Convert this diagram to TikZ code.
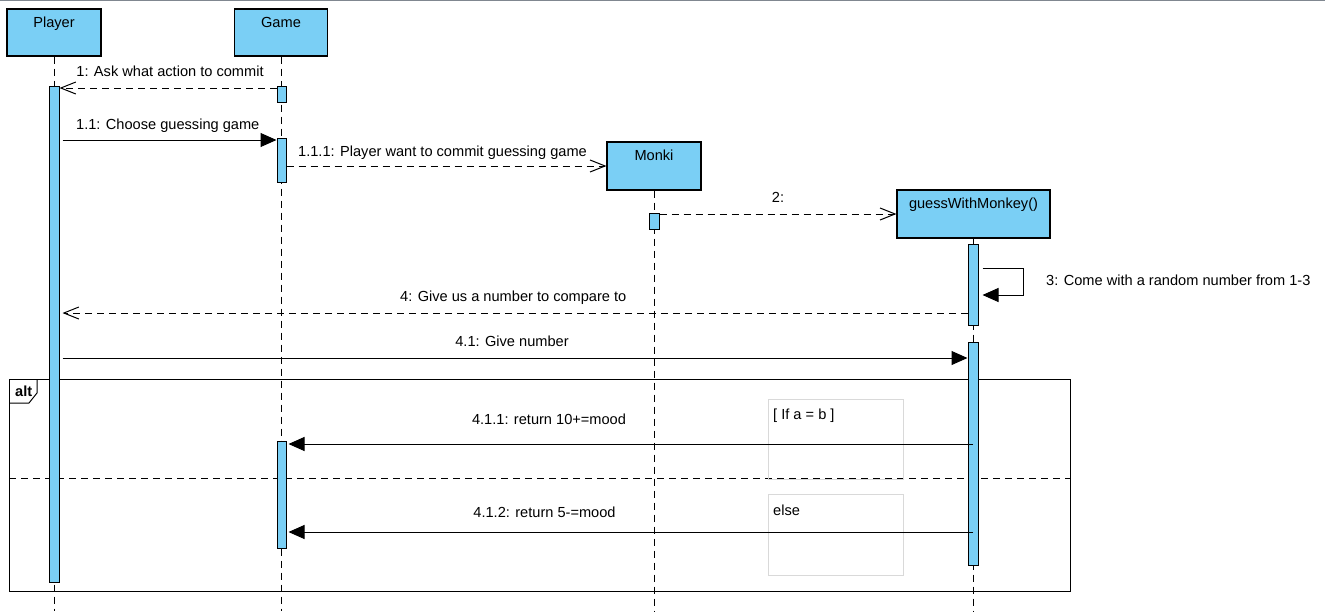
\documentclass[tikz,border=0pt]{standalone}
\usepackage{fontspec}
\setmainfont{Liberation Sans}
\usetikzlibrary{arrows.meta}
\definecolor{lb}{RGB}{122,207,245}
\definecolor{topgray}{RGB}{128,135,144}
\definecolor{guardgray}{RGB}{217,217,217}
\begin{document}
\begin{tikzpicture}[x=1pt,y=-1pt,
  font=\fontsize{14.6}{17}\selectfont,
  obj/.style={draw=black, line width=1.2pt, fill=lb, rectangle, inner sep=0pt},
  act/.style={draw=black, line width=1pt, fill=lb, rectangle, inner sep=0pt, minimum width=9pt},
  life/.style={draw=black, line width=1pt, dash pattern=on 7pt off 5pt},
  sync/.style={line width=1pt, -{Triangle[length=16pt,width=14pt]}},
  ret/.style={line width=1pt, dash pattern=on 7pt off 5pt, -{Straight Barb[length=15pt,width=12pt,line width=1pt]}},
  lbl/.style={anchor=base, inner sep=0pt},
  lblw/.style={anchor=base west, inner sep=0pt},
  guard/.style={draw=guardgray, line width=1pt}
]
\useasboundingbox (0,0) rectangle (1325,611);
\draw[topgray, line width=1.5pt] (0,0.5) -- (1325,0.5);

% objects
\node[obj, minimum width=94pt, minimum height=47pt] (player) at (54,32.5) {};
\node[obj, minimum width=93pt, minimum height=47pt] (game) at (281,32.5) {};
\node[obj, minimum width=94pt, minimum height=48pt] (monki) at (654,166) {};
\node[obj, minimum width=153pt, minimum height=48pt] (guess) at (973.5,214) {};
\node[lbl] (playerT) at (54,27) {Player};
\node[lbl] (gameT) at (281,27) {Game};
\node[lbl] (monkiT) at (654,160) {Monki};
\node[lbl] (guessT) at (973.5,208) {guessWithMonkey()};

% lifelines
\coordinate (pEnd) at (54,611);
\coordinate (gEnd) at (281,611);
\coordinate (mEnd) at (654,611);
\coordinate (wEnd) at (973,611);
\draw[life] (player.south) -- (pEnd);
\draw[life] (game.south) -- (gEnd);
\draw[life] (monki.south) -- (mEnd);
\draw[life] (guess.south -| wEnd) -- (wEnd);

% alt frame
\draw[line width=1pt] (9,379) rectangle (1070,591);
\draw[line width=1pt] (9,403) -- (29,403) -- (37,393) -- (37,379);
\node[anchor=base west, inner sep=0pt, font=\fontsize{14.6}{17}\selectfont\bfseries] (altT) at (15,396) {alt};
\draw[line width=1pt, dash pattern=on 7pt off 5pt] (9,478) -- (1070,478);
\draw[guard] (768,399) rectangle (903,479);
\draw[guard] (768,494) rectangle (903,575);
\node[lblw] (g1) at (773,419) {[ If a = b ]};
\node[lblw] (g2) at (773,515) {else};

% activations
\node[act, minimum width=10pt, minimum height=496pt] (pA) at (54,334) {};
\node[act, minimum height=16pt] (gA1) at (281.5,94) {};
\node[act, minimum height=44pt] (gA2) at (281.5,160) {};
\node[act, minimum height=107pt] (gA3) at (281.5,494.5) {};
\node[act, minimum width=10pt, minimum height=16pt] (mA) at (654,221) {};
\node[act, minimum width=10pt, minimum height=81pt] (wA1) at (973,284.5) {};
\node[act, minimum width=10pt, minimum height=223pt] (wA2) at (973,453.5) {};

% messages
\draw[ret] (gA1.west |- 0,88) -- (pA.east |- 0,88);
\node[lbl] (m1T) at (170,76) {1: Ask what action to commit};

\draw[sync] ([xshift=3pt]pA.east |- 0,140) -- (gA2.west |- 0,140);
\node[lblw] (m11T) at (76,129) {1.1: Choose guessing game};

\draw[ret] (gA2.east |- 0,166) -- (monki.west);
\node[lblw] (m111T) at (298,156) {1.1.1: Player want to commit guessing game};

\draw[ret] (mA.east |- 0,214) -- (guess.west);
\node[lbl] (m2T) at (778,202) {2:};

\draw[sync] ([xshift=4pt]wA1.east |- 0,268) -- (1023,268) |- ([xshift=4pt]wA1.east |- 0,295);
\node[lblw] (m3T) at (1046,285) {3: Come with a random number from 1-3};

\draw[ret] (wA1.west |- 0,313) -- ([xshift=3pt]pA.east |- 0,313);
\node[lblw] (m4T) at (400,301) {4: Give us a number to compare to};

\draw[sync] ([xshift=3pt]pA.east |- 0,358) -- (wA2.west |- 0,358);
\node[lbl] (m41T) at (512,346) {4.1: Give number};

\draw[sync] (wA2.center |- 0,444) -- ([xshift=2pt]gA3.east |- 0,444);
\node[lbl] (m411T) at (549,424) {4.1.1: return 10+=mood};

\draw[sync] (wA2.center |- 0,532) -- ([xshift=2pt]gA3.east |- 0,532);
\node[lbl] (m412T) at (544.5,517) {4.1.2: return 5-=mood};
\end{tikzpicture}
\end{document}
